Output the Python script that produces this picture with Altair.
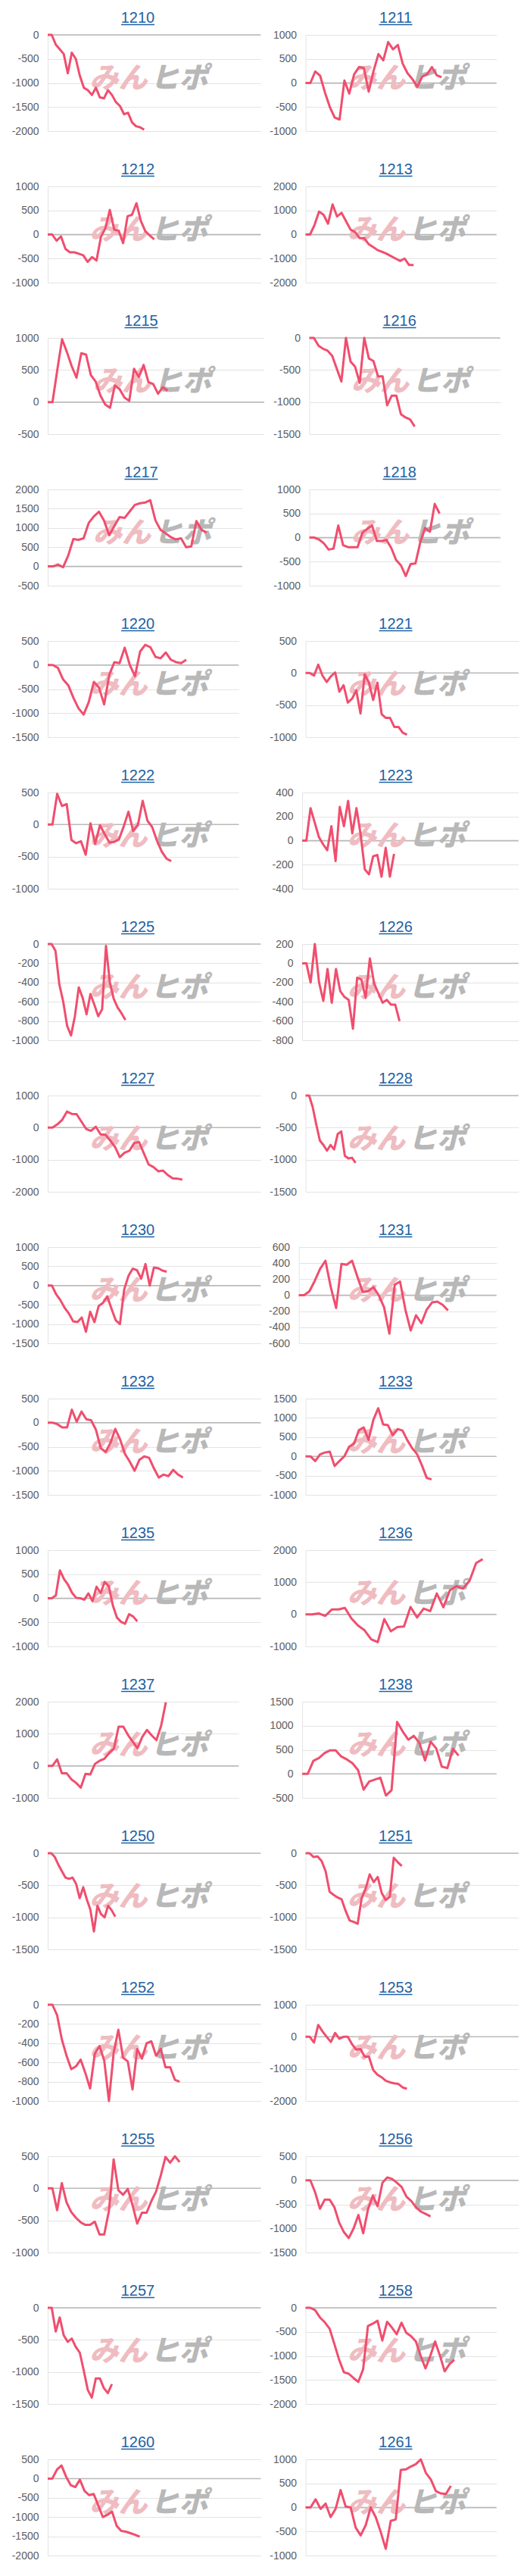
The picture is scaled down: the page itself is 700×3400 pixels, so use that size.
import altair as alt
import pandas as pd

names = ["1210", "1211", "1212", "1213", "1215", "1216", "1217", "1218",
         "1220", "1221", "1222", "1223", "1225", "1226", "1227", "1228",
         "1230", "1231", "1232", "1233", "1235", "1236", "1237", "1238",
         "1250", "1251", "1252", "1253", "1255", "1256", "1257", "1258",
         "1260", "1261"]

v1210 = [0, 0, -200, -300, -400, -800, -370, -500, -850, -1100, -1150, -1250, -1100, -1300, -1320, -1150, -1250, -1400, -1480, -1650, -1620, -1820, -1900, -1920, -1970]
v1211 = [0, 0, 240, 150, -200, -500, -720, -760, 50, -220, 180, 330, 310, -180, 250, 600, 470, 850, 700, 790, 400, 200, 80, -80, 130, 180, 330, 160, 120]
v1212 = [0, 0, -130, -40, -300, -370, -370, -400, -430, -570, -470, -540, -50, 130, 510, 100, 80, -180, 380, 410, 650, 280, 70, -20, -100]
v1213 = [0, 0, 400, 950, 820, 450, 1250, 750, 900, 550, 200, 100, -150, -150, -400, -520, -650, -720, -800, -900, -1000, -1100, -1000, -1270, -1270]
v1215 = [0, 0, 500, 980, 780, 560, 380, 760, 740, 420, 320, 100, -40, -90, 260, 200, 70, 20, 520, 390, 580, 310, 280, 130, 230, 180]
v1216 = [0, 0, -120, -170, -200, -280, -480, -680, 0, -370, -450, -700, 0, -320, -360, -600, -600, -1050, -900, -900, -1190, -1240, -1270, -1380]
v1217 = [0, 0, 50, -20, 280, 710, 690, 730, 1130, 1300, 1420, 1190, 810, 1050, 1280, 1260, 1430, 1600, 1640, 1660, 1720, 1200, 950, 860, 760, 700, 730, 500, 520, 1180, 950, 880]
v1218 = [0, 0, -40, -120, -250, -230, 250, -160, -200, -200, -200, 100, 180, 250, -70, -70, -50, -220, -470, -580, -800, -550, -540, -100, 200, 120, 700, 500]
v1220 = [0, 0, -60, -300, -420, -680, -900, -1030, -770, -350, -470, -820, -200, 60, 40, 360, 0, -230, 280, 420, 370, 170, 140, 260, 110, 60, 40, 110]
v1221 = [0, 0, -40, 130, -40, -140, -50, 10, -290, -190, -460, -400, -270, -630, -20, -150, -420, -150, -640, -700, -700, -840, -840, -930, -960]
v1222 = [0, 0, 480, 290, 320, -240, -290, -260, -470, 20, -300, -10, -150, -280, -270, -230, -30, 200, -100, 0, 370, 60, -40, -250, -420, -530, -570]
v1223 = [0, 0, 270, 150, 30, -30, -80, 120, -170, 280, 120, 330, 60, 270, 50, -240, -280, -130, -120, -300, -60, -300, -110]
v1225 = [0, 0, -70, -420, -600, -850, -950, -750, -450, -560, -730, -520, -630, -750, -680, -20, -400, -570, -660, -720, -790]
v1226 = [0, 0, -200, 200, -200, -390, -60, -410, -60, -290, -350, -380, -680, -150, -170, -360, 50, -210, -310, -410, -380, -430, -430, -600]
v1227 = [0, 0, 100, 240, 500, 430, 420, 190, -40, -100, 30, -210, -220, -400, -600, -920, -780, -720, -480, -450, -800, -1150, -1230, -1360, -1340, -1480, -1580, -1590, -1620]
v1228 = [0, 0, -180, -450, -700, -770, -860, -770, -840, -600, -560, -940, -980, -970, -1050]
v1230 = [0, 0, -230, -380, -580, -730, -930, -950, -830, -1200, -680, -950, -530, -450, -280, -600, -900, -1000, -100, 250, 440, 400, 180, 560, 0, 470, 450, 390, 360]
v1231 = [0, 0, 50, 180, 330, 430, 100, -160, 390, 380, 430, 230, 40, 50, 100, 0, -150, -480, 130, 170, -180, -440, -250, -350, -180, -90, -80, -120, -190]
v1232 = [0, 0, -30, -100, -100, 270, 20, 230, 70, 50, -150, -530, -610, -420, -130, -350, -650, -810, -1000, -770, -700, -730, -950, -1140, -1080, -1110, -980, -1080, -1140]
v1233 = [0, 0, -120, 50, 100, 120, -250, -120, 0, 250, 330, 680, 750, 430, 950, 1250, 830, 810, 550, 710, 670, 420, 210, 60, -230, -560, -600]
v1235 = [0, 0, 60, 580, 400, 280, 110, 10, 0, -30, 100, -60, 240, 110, 340, 250, -150, -400, -490, -530, -330, -380, -480]
v1236 = [0, 0, 30, -50, 150, 150, 200, -130, -350, -500, -780, -870, -150, -530, -400, -380, 230, -100, 180, 100, 650, 220, 750, 880, 800, 1050, 1600, 1720]
v1237 = [0, 0, 200, -230, -230, -420, -530, -680, -250, -270, 60, 160, 220, 400, 530, 1220, 1220, 960, 750, 550, 900, 1120, 950, 800, 1250, 1980]
v1238 = [0, 0, 270, 330, 430, 490, 490, 360, 300, 220, 80, -330, -160, -120, -80, -450, -340, 1080, 880, 710, 790, 640, 280, 670, 530, 150, 120, 520, 380]
v1250 = [0, 0, -60, -180, -280, -380, -400, -380, -480, -700, -530, -720, -880, -1220, -820, -950, -1000, -820, -890, -990]
v1251 = [0, 0, -60, -50, -120, -280, -600, -650, -690, -720, -900, -1050, -1070, -1100, -700, -550, -330, -450, -370, -620, -730, -680, -70, -140, -200]
v1252 = [0, 0, -110, -360, -530, -670, -640, -570, -710, -870, -510, -430, -580, -1000, -500, -260, -550, -590, -880, -460, -560, -400, -380, -530, -460, -650, -650, -780, -800]
v1253 = [0, 0, -180, 370, 170, 0, -160, 120, -60, 0, 0, -230, -400, -380, -620, -620, -1030, -1180, -1260, -1370, -1420, -1450, -1470, -1580, -1620]
v1255 = [0, 0, -340, 80, -220, -370, -460, -530, -570, -570, -520, -720, -720, -350, 450, -30, -100, -10, -260, -550, -380, -380, -200, -50, 200, 490, 400, 500, 410]
v1256 = [0, 0, -250, -590, -400, -400, -560, -880, -1080, -1200, -1000, -720, -1100, -600, -320, -540, -50, 60, 30, -50, -140, -340, -430, -560, -650, -700, -750]
v1257 = [0, 0, -370, -150, -430, -530, -480, -610, -700, -980, -1280, -1400, -1100, -1100, -1250, -1330, -1190]
v1258 = [0, 0, -50, -200, -300, -430, -750, -1080, -1340, -1370, -1460, -1540, -1280, -380, -330, -270, -680, -290, -410, -550, -310, -520, -590, -700, -1000, -1260, -1000, -700, -990, -1320, -1170, -1080]
v1260 = [0, 0, 230, 340, 50, -170, -220, -30, -320, -430, -400, -700, -1000, -940, -860, -1230, -1360, -1380, -1420, -1460, -1510]
v1261 = [0, 0, 170, -30, 80, -200, -30, 360, 20, 0, -420, -580, -370, 0, -200, -510, -860, -280, -250, 780, 790, 850, 900, 1000, 720, 580, 340, 290, 280, 450]

series = [v1210, v1211, v1212, v1213, v1215, v1216, v1217, v1218,
          v1220, v1221, v1222, v1223, v1225, v1226, v1227, v1228,
          v1230, v1231, v1232, v1233, v1235, v1236, v1237, v1238,
          v1250, v1251, v1252, v1253, v1255, v1256, v1257, v1258,
          v1260, v1261]

t_a = [-2000, -1500, -1000, -500, 0]
t_b = [-1000, -500, 0, 500, 1000]
t_c = [-2000, -1000, 0, 1000, 2000]
t_d = [-500, 0, 500, 1000]
t_e = [-1500, -1000, -500, 0]
t_f = [-500, 0, 500, 1000, 1500, 2000]
t_g = [-1500, -1000, -500, 0, 500]
t_h = [-1000, -500, 0, 500]
t_i = [-400, -200, 0, 200, 400]
t_j = [-1000, -800, -600, -400, -200, 0]
t_k = [-800, -600, -400, -200, 0, 200]
t_l = [-2000, -1000, 0, 1000]
t_m = [-1500, -1000, -500, 0, 500, 1000]
t_n = [-600, -400, -200, 0, 200, 400, 600]
t_o = [-1000, -500, 0, 500, 1000, 1500]
t_p = [-1000, 0, 1000, 2000]
t_q = [-500, 0, 500, 1000, 1500]
t_r = [-2000, -1500, -1000, -500, 0, 500]

tick_sets = [t_a, t_b, t_b, t_c, t_d, t_e, t_f, t_b,
             t_g, t_h, t_h, t_i, t_j, t_k, t_l, t_e,
             t_m, t_n, t_g, t_o, t_b, t_p, t_p, t_q,
             t_e, t_e, t_j, t_l, t_h, t_g, t_e, t_a,
             t_r, t_b]

# number of x slots on each panel's horizontal scale
slots = [53.0, 39.3, 48.0, 42.4, 45.1, 41.7, 37.9, 39.6,
         37.2, 50.4, 40.2, 51.8, 54.8, 51.1, 44.3, 59.6,
         50.1, 37.1, 44.1, 39.4, 52.3, 29.1, 40.4, 34.8,
         59.9, 53.1, 45.2, 50.4, 45.2, 44.3, 53.1, 39.8,
         46.3, 38.1]

# layout: plot-area left / right edges on the page (px)
plot_left = [62.5, 401.8, 62.5, 401.8, 58.0, 401.8, 58.0, 401.8,
             62.5, 401.8, 62.5, 397.3, 62.5, 397.3, 62.5, 401.8,
             62.5, 392.9, 62.5, 401.8, 62.5, 401.8, 62.5, 397.3,
             62.5, 401.8, 62.5, 401.8, 62.5, 401.8, 62.5, 401.8,
             62.5, 401.8]
plot_right = [343.75, 654, 343.75, 654, 343.75, 654, 314.7, 654,
              314.7, 683, 314.7, 683, 343.75, 683, 343.75, 683,
              343.75, 654, 343.75, 654, 343.75, 654, 314.7, 654,
              343.75, 683, 343.75, 683, 343.75, 683, 343.75, 654,
              343.75, 654]

PLOT_H = 127
LINE_COLOR = "#f04e6e"
TITLE_COLOR = "#1f62a3"
GRID = "#e3e3e3"
ZERO = "#b9b9b9"
WM_PINK = "#efbcc1"
WM_GRAY = "#b8b8b8"
RIGHT_EXTENT = 48.5


def yaxis(ticks, extent):
    return alt.Axis(values=ticks, title=None, grid=True, gridColor=GRID, gridWidth=1,
                    ticks=False, domain=True, domainColor=GRID, domainWidth=1,
                    labelColor="#5e5e5e", labelFontSize=14, labelFont="Liberation Sans",
                    labelPadding=12, minExtent=extent, maxExtent=extent,
                    labelOverlap=False, labelExpr="datum.value + ''")


def panel(idx, extent, nominal_left):
    name = names[idx]
    vals = series[idx]
    ticks = tick_sets[idx]
    W = plot_right[idx] - plot_left[idx]
    shift = nominal_left - plot_left[idx]
    df = pd.DataFrame({"i": list(range(len(vals))), "v": vals})
    ys = alt.Scale(domain=[min(ticks), max(ticks)], nice=False, zero=False)
    xs = alt.Scale(domain=[0, slots[idx]], nice=False, zero=False)
    y = alt.Y("v:Q", scale=ys, axis=yaxis(ticks, extent))

    zero = alt.Chart(pd.DataFrame({"v": [0]})).mark_rule(
        color=ZERO, strokeWidth=1.5).encode(y=y)
    wm1 = alt.Chart(pd.DataFrame({"t": ["みん"]})).mark_text(
        align="left", baseline="middle", font="Noto Sans CJK JP", fontSize=38,
        fontWeight=900, fontStyle="italic", color=WM_PINK
    ).encode(text="t:N", x=alt.value(55.5 + shift), y=alt.value(59))
    wm2 = alt.Chart(pd.DataFrame({"t": ["ヒポ"]})).mark_text(
        align="left", baseline="middle", font="Noto Sans CJK JP", fontSize=38,
        fontWeight=900, fontStyle="italic", color=WM_GRAY
    ).encode(text="t:N", x=alt.value(135.5 + shift), y=alt.value(59))
    line = alt.Chart(df).mark_line(
        color=LINE_COLOR, strokeWidth=3, strokeJoin="round"
    ).encode(x=alt.X("i:Q", scale=xs, axis=None), y=y)
    title = alt.Chart(pd.DataFrame({"t": [name]})).mark_text(
        align="center", baseline="alphabetic", fontSize=20, font="Liberation Sans",
        color=TITLE_COLOR
    ).encode(text="t:N", x=alt.value(119 + shift), y=alt.value(-16))
    underline = alt.Chart(pd.DataFrame({"t": [name]})).mark_rule(
        color=TITLE_COLOR, strokeWidth=1.5
    ).encode(x=alt.value(97 + shift), x2=alt.value(141 + shift), y=alt.value(-13.5))
    return alt.layer(zero, wm1, wm2, line, title, underline).properties(width=W, height=PLOT_H)


rows = []
for r in range(len(names) // 2):
    li, ri = 2 * r, 2 * r + 1
    left = panel(li, plot_left[li] - 8, 62.5)
    right = panel(ri, RIGHT_EXTENT, 401.8)
    gap = plot_left[ri] - RIGHT_EXTENT - plot_right[li]
    rows.append(alt.hconcat(left, right, spacing=gap))

chart = alt.vconcat(*rows, spacing=34).properties(
    padding={"left": 0, "top": 6, "right": 0, "bottom": 0},
    background="white",
).configure_view(stroke=None)

chart.save("out.html", embed_options={"renderer": "svg", "actions": False})
